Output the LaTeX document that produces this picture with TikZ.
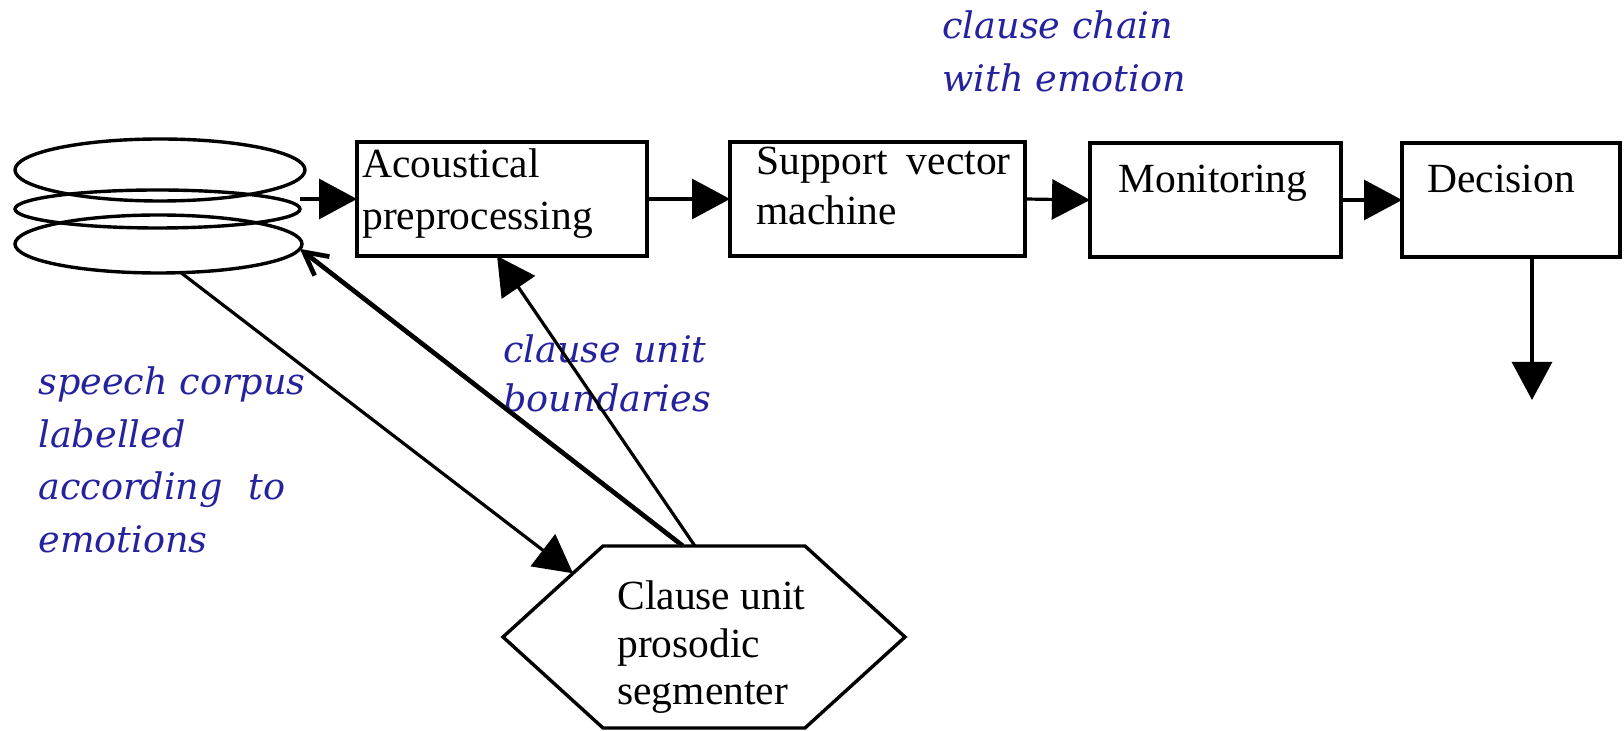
\documentclass[tikz,border=0pt]{standalone}
\usepackage{fontspec}
\setmainfont{Liberation Serif}
\newfontfamily\annfont{DejaVu Serif}
\usetikzlibrary{arrows.meta,shapes.geometric,calc}
\definecolor{annblue}{RGB}{38,34,158}
\begin{document}
\begin{tikzpicture}[x=0.5pt,y=-0.5pt,
  box/.style={draw,line width=2.2pt,rectangle,inner sep=0pt,outer sep=0pt},
  disc/.style={draw,line width=1.7pt,ellipse,inner sep=0pt,outer sep=0pt},
  boxtext/.style={inner sep=0pt,align=left,anchor=base west,
    font=\fontsize{20.75pt}{26pt}\selectfont},
  ann/.style={inner sep=0pt,align=left,anchor=base west,text=annblue,
    font=\annfont\itshape\fontsize{18.3pt}{26.25pt}\selectfont},
  flow/.style={line width=1.6pt,-{Triangle[length=19pt,width=20pt]}},
  back/.style={line width=2.3pt,-{Straight Barb[length=11.5pt,width=12pt]}},
]
\useasboundingbox (0,0) rectangle (1624,731);

% stacked discs: the speech corpus
\node[disc,minimum width=145pt,minimum height=31pt] (e1) at (160,170) {};
\node[disc,minimum width=142.5pt,minimum height=19pt] (e2) at (157.5,209) {};
\node[disc,minimum width=143.5pt,minimum height=29pt] (e3) at (158.5,244) {};

% processing chain
\node[box,minimum width=145pt,minimum height=57pt] (acou) at (502,199) {};
\node[box,minimum width=147.5pt,minimum height=57pt] (svm) at (877.5,199) {};
\node[box,minimum width=125.5pt,minimum height=57pt] (mon) at (1215.5,200) {};
\node[box,minimum width=109pt,minimum height=57pt] (dec) at (1511,200) {};

% box labels (placed by the baseline of their last line)
\node[boxtext] (acou-t) at (362,230) {Acoustical\\preprocessing};
\node[boxtext,font=\fontsize{20.75pt}{25pt}\selectfont] (svm-t) at (756,225)
  {Support\hspace{0.46em}vector\\machine};
\node[boxtext] (mon-t) at (1118,193) {Monitoring};
\node[boxtext] (dec-t) at (1427,193) {Decision};

% segmenter hexagon
\coordinate (hTL) at (603,546);
\coordinate (hTR) at (805,546);
\coordinate (hR)  at (905,637);
\coordinate (hBR) at (805,728);
\coordinate (hBL) at (603,728);
\coordinate (hL)  at (503,637);
\draw[line width=1.7pt,line join=miter] (hTL) -- (hTR) -- (hR) -- (hBR) -- (hBL) -- (hL) -- cycle;
\node[boxtext,font=\fontsize{20.75pt}{23.75pt}\selectfont] (seg) at (617,705)
  {Clause unit\\prosodic\\segmenter};

% annotations
\node[ann,font=\annfont\itshape\fontsize{18.3pt}{26.5pt}\selectfont] (chain) at (942,92)
  {clause chain\\with emotion};
\node[ann] (corpus) at (38,552.5)
  {speech corpus\\labelled\\according\hspace{0.7em}to\\emotions};
\node[ann,font=\annfont\itshape\fontsize{18.3pt}{24.5pt}\selectfont] (bound) at (503,412)
  {clause unit\\boundaries};

% connectors
\draw[flow] (e2.east |- acou.west) -- (acou.west);
\draw[flow] (acou.east) -- (svm.west);
\draw[flow] (svm.east) -- (mon.west);
\draw[flow] (mon.east) -- (dec.west);
\coordinate (out) at (1532,400);
\draw[flow] (dec.south -| out) -- (out);

\draw[flow] (e3.-52) -- ($(hL)!0.7!(hTL)$);
\draw[flow] ($(hTL)!0.455!(hTR)$) -- ($(acou.south west)!0.483!(acou.south east)$);
\draw[back,gray!65,xshift=1pt,yshift=-1pt] ($(hTL)!0.396!(hTR)$) -- (e3.-2);
\draw[back] ($(hTL)!0.396!(hTR)$) -- (e3.-2);
\end{tikzpicture}
\end{document}
